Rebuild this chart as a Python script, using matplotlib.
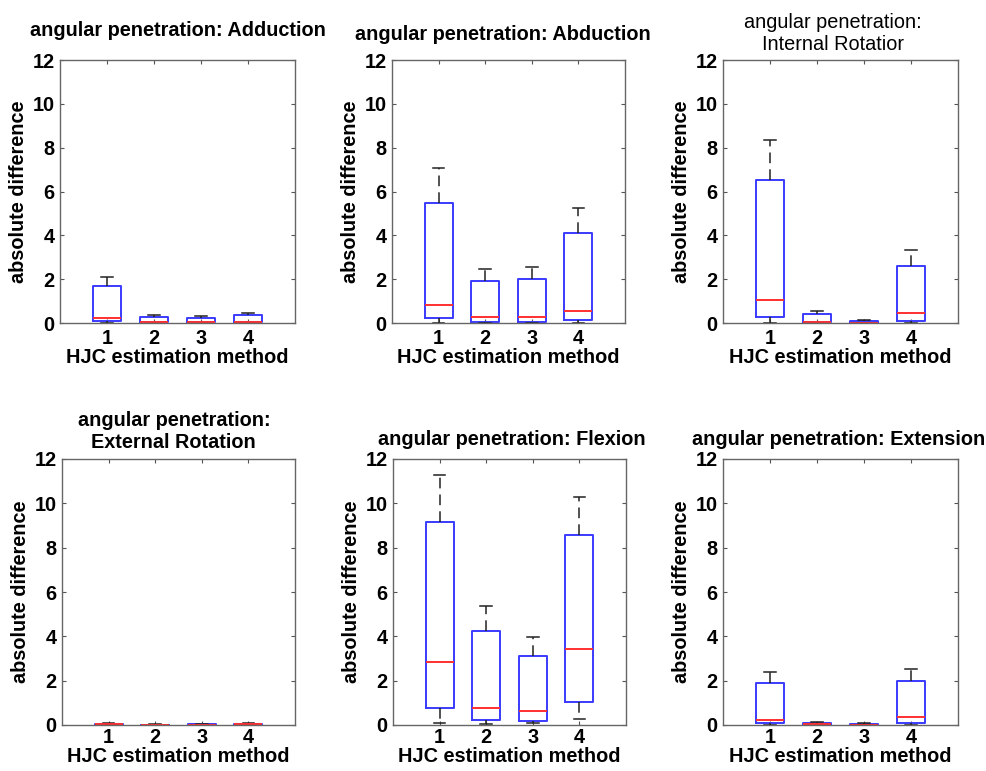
import numpy as np
import matplotlib.pyplot as plt

plt.rcParams["font.family"] = ["Liberation Sans", "DejaVu Sans"]
plt.rcParams["font.weight"] = "bold"
plt.rcParams["axes.labelweight"] = "bold"
plt.rcParams["axes.titleweight"] = "bold"

methods = [1, 2, 3, 4]

titles = [
    "angular penetration: Adduction",
    "angular penetration: Abduction",
    "angular penetration:\nInternal Rotatior",
    "angular penetration:\nExternal Rotation",
    "angular penetration: Flexion",
    "angular penetration: Extension",
]

# box statistics per panel, one value per method
whislo = [
    [0.00, 0.00, 0.00, 0.00],
    [0.00, 0.00, 0.00, 0.00],
    [0.00, 0.00, 0.00, 0.00],
    [0.00, 0.00, 0.00, 0.00],
    [0.08, 0.03, 0.08, 0.26],
    [0.00, 0.00, 0.00, 0.00],
]
q1 = [
    [0.07, 0.03, 0.03, 0.03],
    [0.23, 0.06, 0.06, 0.14],
    [0.26, 0.03, 0.01, 0.10],
    [0.01, 0.00, 0.00, 0.01],
    [0.75, 0.23, 0.20, 1.02],
    [0.08, 0.01, 0.00, 0.10],
]
med = [
    [0.21, 0.05, 0.05, 0.05],
    [0.81, 0.27, 0.27, 0.56],
    [1.05, 0.05, 0.02, 0.45],
    [0.03, 0.01, 0.02, 0.03],
    [2.83, 0.75, 0.65, 3.41],
    [0.23, 0.03, 0.01, 0.35],
]
q3 = [
    [1.67, 0.27, 0.23, 0.35],
    [5.48, 1.93, 2.00, 4.10],
    [6.52, 0.43, 0.10, 2.58],
    [0.06, 0.01, 0.03, 0.06],
    [9.14, 4.24, 3.11, 8.57],
    [1.88, 0.10, 0.04, 2.00],
]
whishi = [
    [2.12, 0.35, 0.31, 0.47],
    [7.05, 2.46, 2.54, 5.25],
    [8.35, 0.56, 0.15, 3.32],
    [0.08, 0.03, 0.06, 0.08],
    [11.28, 5.37, 3.98, 10.30],
    [2.41, 0.12, 0.08, 2.54],
]

yticks = [0, 2, 4, 6, 8, 10, 12]

# axes boxes in pixels: left, right, top, bottom
W, H = 987, 771
boxes = [
    (60, 295, 60, 323), (392, 625, 60, 323), (723, 958, 60, 323),
    (62, 295, 459, 725), (393, 626, 459, 725), (723, 958, 459, 725),
]
title_x = [0.5, 0.474, 0.466, 0.48, 0.51, 0.49]
title_pad = [17, 14.5, 7, 8, 10, 10]
title_wt = ["bold", "bold", "normal", "bold", "bold", "bold"]
xtick_pad = [4, 4, 4, 2, 2, 2]
xlab_pad = [0.5, 0.5, 0.5, 0, 0, 0]
fs = 14.3

fig = plt.figure(figsize=(W / 100, H / 100), dpi=100)

for i in range(6):
    l, r, t, b = boxes[i]
    ax = fig.add_axes([l / W, 1 - b / H, (r - l) / W, (b - t) / H])
    stats = []
    for j in range(4):
        stats.append(dict(whislo=whislo[i][j], q1=q1[i][j], med=med[i][j],
                          q3=q3[i][j], whishi=whishi[i][j], fliers=[]))
    ax.bxp(stats, positions=methods, widths=0.6, capwidths=0.25,
           showfliers=False,
           boxprops=dict(color="#3a3aff", lw=1.4),
           medianprops=dict(color="#ff3030", lw=1.4),
           whiskerprops=dict(color="#222222", lw=1.1, ls=(0, (7, 4))),
           capprops=dict(color="#222222", lw=1.1))
    ax.set_xlim(0, 5)
    ax.set_ylim(0, 12)
    ax.set_yticks(yticks)
    ax.set_xticks(methods)
    ax.set_xticklabels([str(m) for m in methods])
    ax.tick_params(direction="in", top=True, right=True, length=3,
                   color="#555555", labelsize=fs, pad=4)
    ax.tick_params(axis="x", pad=xtick_pad[i])
    for s in ax.spines.values():
        s.set_color("#666666")
        s.set_linewidth(1.0)
    ax.set_xlabel("HJC estimation method", fontsize=fs, labelpad=xlab_pad[i])
    ax.set_ylabel("absolute difference", fontsize=fs, labelpad=3)
    ax.set_title(titles[i], fontsize=fs, x=title_x[i], pad=title_pad[i],
                 fontweight=title_wt[i])

fig.savefig("out.png", dpi=100)
